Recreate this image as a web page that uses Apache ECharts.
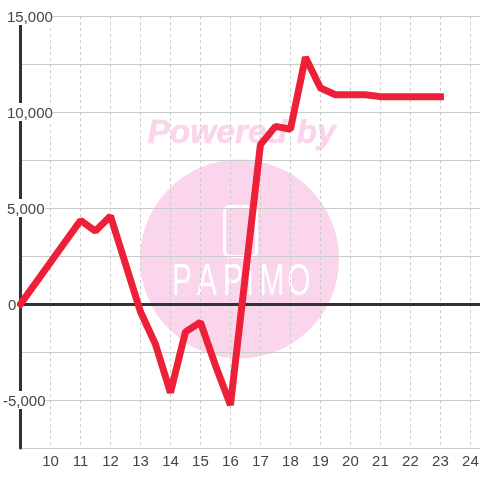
<!DOCTYPE html>
<html><head><meta charset="utf-8">
<style>html,body{margin:0;padding:0;background:#fff}#c{width:480px;height:480px}</style>
<script src="https://cdn.jsdelivr.net/npm/echarts@6/dist/echarts.min.js"></script>
</head><body><div id="c"></div>
<script>
const xValues = [9, 11, 11.5, 12, 13, 13.5, 14, 14.5, 15, 15.5, 16, 17, 17.5, 18, 18.5, 19, 19.5, 20, 20.5, 21, 22, 23];
const yValues = [0, 4350, 3800, 4580, -400, -2100, -4620, -1450, -950, -3200, -5260, 8300, 9250, 9100, 12850, 11250, 10900, 10900, 10900, 10800, 10800, 10800];
const points = xValues.map((x, i) => [x, yValues[i]]);
const watermarkTitle = 'Powered by';
const watermarkLetters = [['P',182],['A',207],['P',233],['i',250],['M',272],['O',299]];
const font = '"Liberation Sans", Arial, sans-serif';
const chart = echarts.init(document.getElementById('c'), null, {renderer:'canvas'});
const xCommon = {type:'value', min:9, max:24.32, interval:1};
chart.setOption({
  animation:false,
  backgroundColor:'#fff',
  grid:{left:20.5, right:0, top:16, bottom:32, containLabel:false, outerBoundsMode:'none'},
  xAxis:[
    {...xCommon, position:'bottom',
     axisLine:{show:false, onZero:false}, axisTick:{show:false},
     splitLine:{show:true, lineStyle:{color:'#ccc', width:1, type:[3,3]}},
     axisLabel:{show:true, margin:6, fontSize:15, fontFamily:font, color:'#444', showMinLabel:false, showMaxLabel:false,
       formatter:v => Number.isInteger(v) && v>9 ? String(v) : ''}},
    {...xCommon, position:'bottom',
     axisLine:{show:true, onZero:true, lineStyle:{color:'#333', width:3}},
     axisTick:{show:false}, axisLabel:{show:false}, splitLine:{show:false}}
  ],
  yAxis:{type:'value', min:-7500, max:15000, interval:2500,
    axisLine:{show:true, lineStyle:{color:'#333', width:3}}, axisTick:{show:false},
    splitLine:{show:true, lineStyle:{color:'#c8ccc8', width:1}},
    axisLabel:{margin:17.5, align:'left', fontSize:15, fontFamily:font, color:'#444',
      formatter:v => {
        if (v % 5000 !== 0) return '';
        if (v === 0) return '{z|0}';
        const s = v.toLocaleString('en-US');
        return v < 0 ? '{n|'+s+'}' : '{p|'+s+'}';
      },
      rich:{
        p:{fontSize:15, fontFamily:font, color:'#444', backgroundColor:'#fff', padding:[3,0,0,4], lineHeight:14},
        n:{fontSize:15, fontFamily:font, color:'#444', backgroundColor:'#fff', padding:[3,0,0,0], lineHeight:14},
        z:{fontSize:15, fontFamily:font, color:'#444', padding:[3,0,0,5], lineHeight:14}
      }}},
  graphic:{elements:[
    {type:'circle', z:-10, silent:true, shape:{cx:239.5, cy:259, r:99.5}, style:{fill:'#fbd5ec'}},
    {type:'text', z:-10, silent:true, style:{x:241.5, y:134, text:watermarkTitle, align:'center', verticalAlign:'middle',
      font:'italic bold 33.5px '+font, fill:'#fbd5ec', stroke:'#fbd5ec', lineWidth:0.6}},
    {type:'rect', z:-9, silent:true, shape:{x:224.5, y:206.5, width:32, height:50, r:5}, style:{fill:'none', stroke:'#fff', lineWidth:3}},
    ...watermarkLetters.map(([t,x]) => ({type:'text', z:-9, silent:true, x, y:305, scaleX:0.68, style:{x:0, y:0, text:t, align:'center', verticalAlign:'bottom',
      font:'44px '+font, fill:'#fff'}}))
  ]},
  series:[{type:'line', data:points, symbol:'none', smooth:false, z:5,
    lineStyle:{color:'#ee2038', width:7, cap:'square', join:'bevel'}}]
});
</script></body></html>
